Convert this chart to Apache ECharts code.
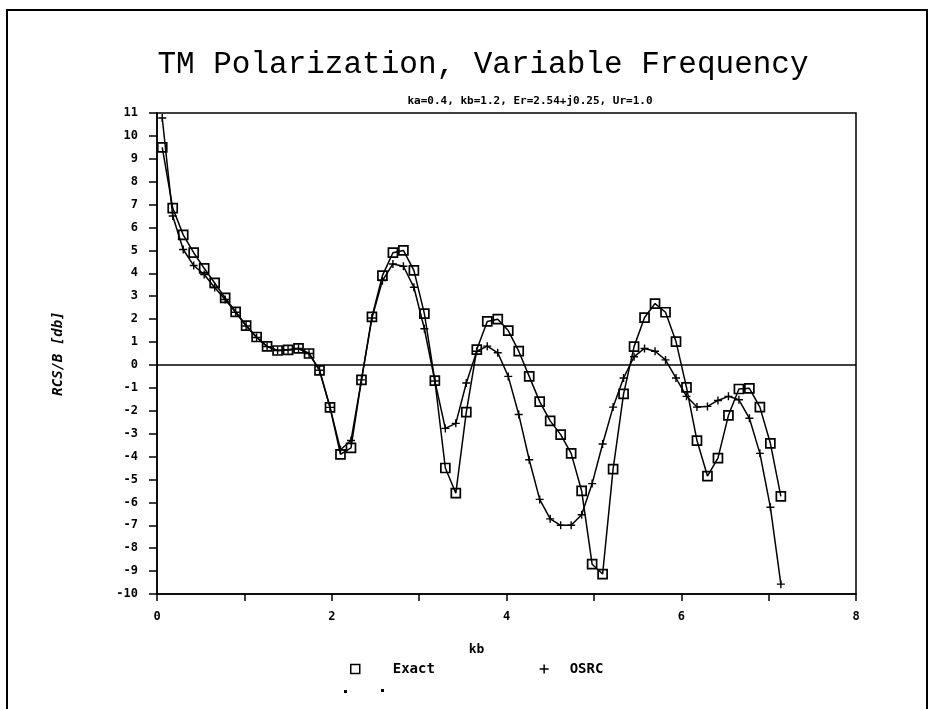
<!DOCTYPE html>
<html><head><meta charset="utf-8">
<script src="https://cdn.jsdelivr.net/npm/echarts@6/dist/echarts.min.js"></script>
<style>html,body{margin:0;padding:0;background:#fff}#c{width:940px;height:709px}</style>
</head><body><div id="c"></div>
<script>
// kb sample points
const kb = [0.06,0.18,0.30,0.42,0.54,0.66,0.78,0.90,1.02,1.14,1.26,1.38,1.50,1.62,1.74,1.86,1.98,2.10,2.22,2.34,
  2.46,2.58,2.70,2.82,2.94,3.06,3.18,3.30,3.42,3.54,3.66,3.78,3.90,4.02,4.14,4.26,4.38,4.50,4.62,4.74,
  4.86,4.98,5.10,5.22,5.34,5.46,5.58,5.70,5.82,5.94,6.06,6.18,6.30,6.42,6.54,6.66,6.78,6.90,7.02,7.14];
// Exact solution, RCS/B [db]
const exact = [9.5,6.85,5.68,4.9,4.22,3.58,2.93,2.32,1.72,1.22,0.81,0.63,0.66,0.72,0.5,-0.24,-1.85,-3.9,-3.62,-0.65,
  2.1,3.9,4.9,5.0,4.13,2.24,-0.68,-4.5,-5.6,-2.06,0.67,1.9,2.0,1.5,0.6,-0.5,-1.6,-2.44,-3.04,-3.86,
  -5.5,-8.7,-9.13,-4.55,-1.26,0.8,2.07,2.68,2.3,1.02,-0.98,-3.3,-4.85,-4.07,-2.2,-1.05,-1.02,-1.84,-3.42,-5.74];
// OSRC approximation, RCS/B [db]
const osrc = [10.78,6.5,5.04,4.34,3.95,3.38,2.86,2.3,1.7,1.2,0.8,0.63,0.66,0.72,0.5,-0.23,-1.85,-3.7,-3.3,-0.65,
  2.05,3.68,4.41,4.31,3.39,1.58,-0.7,-2.77,-2.55,-0.79,0.6,0.82,0.53,-0.5,-2.16,-4.14,-5.87,-6.72,-7.0,-7.0,
  -6.54,-5.18,-3.45,-1.84,-0.57,0.36,0.72,0.6,0.22,-0.57,-1.37,-1.84,-1.81,-1.55,-1.37,-1.52,-2.33,-3.86,-6.21,-9.57];
const xLabels = [0,2,4,6,8];
const seriesNames = ['Exact','OSRC'];

const plusPath = 'path://M0,5L10,5M5,0L5,10';
const chart = echarts.init(document.getElementById('c'), null, {renderer:'canvas'});
const lbl = {fontFamily:'DejaVu Sans Mono', fontWeight:'bold', fontSize:12, color:'#000'};
chart.setOption({
  animation:false,
  backgroundColor:'#fff',
  title:[
    {
      text:'TM Polarization, Variable Frequency',
      left:478, top:44, textAlign:'center',
      textStyle:{fontFamily:'Liberation Mono', fontWeight:'normal', fontSize:31, color:'#000'}
    },
    {
      text:'ka=0.4, kb=1.2, Er=2.54+j0.25, Ur=1.0',
      left:525, top:91, textAlign:'center',
      textStyle:{fontFamily:'DejaVu Sans Mono', fontWeight:'bold', fontSize:11, color:'#000'}
    }
  ],
  grid:{left:157, right:84, top:113, bottom:115, show:true, borderColor:'#000', borderWidth:1.5, backgroundColor:'transparent'},
  xAxis:{
    type:'value', min:0, max:8, interval:1,
    name:'kb', nameLocation:'middle', nameGap:49,
    nameTextStyle:{fontFamily:'DejaVu Sans Mono', fontWeight:'bold', fontSize:13, color:'#000', padding:[0,60,0,0]},
    axisLine:{onZero:false, lineStyle:{color:'#000', width:1.5}},
    axisTick:{inside:false, length:7, lineStyle:{color:'#000', width:1.5}},
    axisLabel:Object.assign({margin:17, formatter:v => xLabels.indexOf(v) >= 0 ? String(v) : ''}, lbl),
    splitLine:{show:false}
  },
  yAxis:{
    type:'value', min:-10, max:11, interval:1,
    name:'RCS/B [db]', nameLocation:'middle', nameGap:92, nameRotate:90,
    nameTextStyle:{fontFamily:'DejaVu Sans Mono', fontWeight:'bold', fontStyle:'italic', fontSize:14, color:'#000'},
    axisLine:{lineStyle:{color:'#000', width:1.5}},
    axisTick:{inside:false, length:8, lineStyle:{color:'#000', width:1.5}},
    axisLabel:Object.assign({margin:19}, lbl),
    splitLine:{show:false}
  },
  legend:{
    left:345, top:657, itemWidth:9, itemHeight:9, itemGap:104,
    textStyle:{fontFamily:'DejaVu Sans Mono', fontWeight:'bold', fontSize:14, color:'#000'},
    data:[
      {name:seriesNames[0], icon:'rect', itemStyle:{color:'#fff', borderColor:'#000', borderWidth:1.5}, textStyle:{padding:[0,0,0,28]}},
      {name:seriesNames[1], icon:plusPath, itemStyle:{color:'#000', borderColor:'#000', borderWidth:1.5}, textStyle:{padding:[0,0,0,16]}}
    ]
  },
  series:[
    {
      name:seriesNames[0], type:'line', data:kb.map((x,i)=>[x, exact[i]]),
      symbol:'rect', symbolSize:9, showAllSymbol:true,
      lineStyle:{color:'#000', width:1.5},
      itemStyle:{color:'rgba(255,255,255,0)', borderColor:'#000', borderWidth:1.7},
      z:3,
      markLine:{silent:true, symbol:['none','none'], label:{show:false},
        lineStyle:{color:'#000', width:1.5, type:'solid'}, data:[{yAxis:0}]}
    },
    {
      name:seriesNames[1], type:'line', data:kb.map((x,i)=>[x, osrc[i]]),
      symbol:plusPath, symbolSize:8, showAllSymbol:true,
      lineStyle:{color:'#000', width:1.5},
      itemStyle:{color:'#000', borderColor:'#000', borderWidth:1.4},
      z:2
    }
  ],
  graphic:[
    {type:'rect', shape:{x:7, y:10, width:920, height:720}, style:{fill:'none', stroke:'#000', lineWidth:2}, silent:true},
    {type:'rect', shape:{x:344, y:690, width:3, height:3}, style:{fill:'#000'}, silent:true},
    {type:'rect', shape:{x:381, y:689, width:3, height:3}, style:{fill:'#000'}, silent:true}
  ]
});
</script>
</body></html>
